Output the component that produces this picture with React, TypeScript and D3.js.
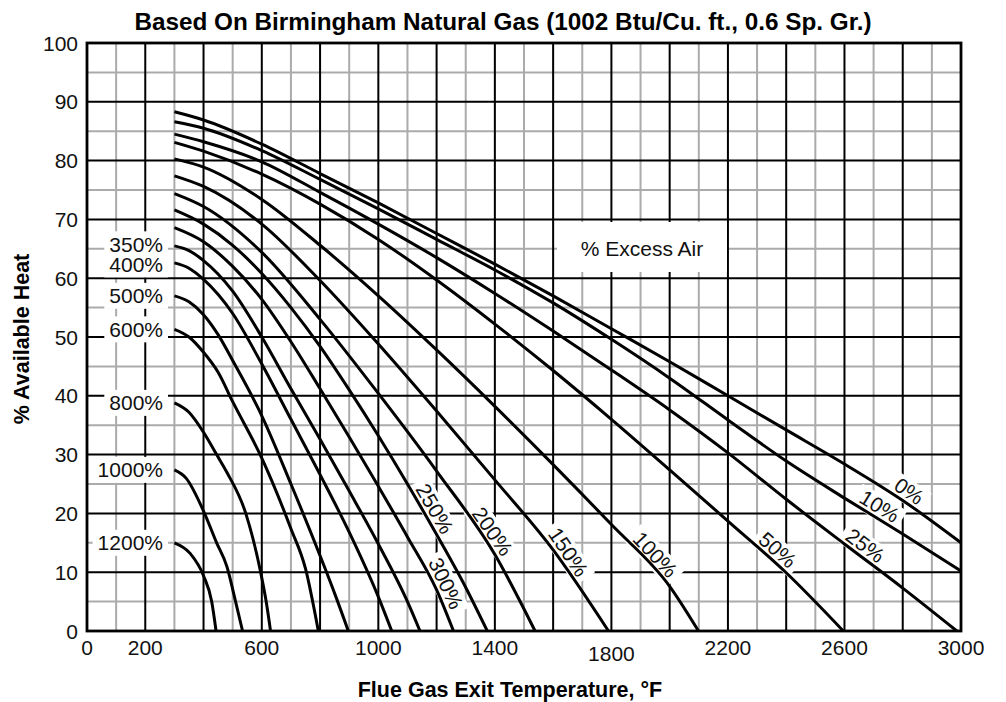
import * as d3 from 'd3';

// % excess air for each curve, top to bottom
const excessAir = ['0%', '10%', '25%', '50%', '100%', '150%', '200%', '250%', '300%', '350%', '400%', '500%', '600%', '800%', '1000%', '1200%'];

// [flue gas temperature °F, % available heat]
const ea0 = [[300, 88.3], [400, 86.9], [600, 82.8], [800, 77.8], [1000, 72.8], [1200, 67.6], [1400, 62.4], [1600, 57.0], [1800, 51.4], [2000, 45.8], [2200, 40.0], [2400, 34.2], [2600, 28.4], [2800, 22.2], [3000, 15.0]];
const ea10 = [[300, 86.6], [400, 85.5], [600, 81.7], [800, 76.8], [1000, 71.8], [1200, 66.6], [1400, 61.4], [1600, 55.8], [1800, 49.6], [2000, 43.0], [2200, 35.9], [2400, 28.9], [2600, 22.6], [2800, 16.5], [3000, 10.2]];
const ea25 = [[300, 84.5], [400, 83.2], [600, 79.8], [800, 74.6], [1000, 69.2], [1200, 63.5], [1400, 57.4], [1600, 51.0], [1800, 44.4], [2000, 37.6], [2200, 30.3], [2400, 22.4], [2600, 14.8], [2800, 7.3], [2986, 0]];
const ea50 = [[300, 83.1], [400, 81.6], [600, 77.7], [800, 72.6], [1000, 66.6], [1200, 59.7], [1400, 52.2], [1600, 44.3], [1800, 36.0], [2000, 27.4], [2200, 18.7], [2400, 9.9], [2596, 0]];
const ea100 = [[300, 80.3], [400, 78.9], [600, 73.4], [800, 65.6], [1000, 57.0], [1200, 47.8], [1400, 38.2], [1600, 28.3], [1800, 18.1], [2000, 7.6], [2099, 0]];
const ea150 = [[300, 77.4], [400, 75.6], [600, 69.2], [800, 59.6], [1000, 48.8], [1200, 37.4], [1400, 25.7], [1600, 13.8], [1790, 0]];
const ea200 = [[300, 74.4], [400, 72.2], [600, 64.4], [800, 53.0], [1000, 40.4], [1200, 27.2], [1400, 13.0], [1538, 0]];
const ea250 = [[300, 71.6], [400, 69.2], [500, 65.6], [600, 60.8], [700, 55.0], [800, 48.4], [900, 41.0], [1000, 33.2], [1100, 25.0], [1200, 16.4], [1300, 7.4], [1374, 0]];
const ea300 = [[300, 68.6], [400, 66.2], [500, 62.0], [600, 56.4], [700, 49.2], [800, 41.2], [900, 33.0], [1000, 24.6], [1100, 16.0], [1200, 7.0], [1258, 0]];
const ea350 = [[300, 65.5], [350, 64.7], [400, 63.0], [500, 57.8], [600, 50.0], [700, 41.2], [800, 32.6], [900, 23.8], [1000, 14.8], [1100, 5.0], [1143, 0]];
const ea400 = [[300, 62.6], [350, 61.7], [400, 59.8], [500, 54.0], [600, 45.4], [700, 36.0], [800, 26.6], [900, 16.8], [1000, 5.8], [1046, 0]];
const ea500 = [[300, 57.0], [350, 56.0], [400, 53.8], [450, 50.4], [500, 46.0], [600, 36.6], [700, 25.0], [800, 12.8], [850, 6.4], [897, 0]];
const ea600 = [[300, 51.3], [350, 50.0], [400, 47.4], [450, 44.0], [500, 39.0], [600, 29.4], [700, 17.4], [750, 10.6], [794, 0]];
const ea800 = [[300, 38.8], [350, 37.2], [400, 33.8], [445, 30.0], [480, 27.0], [545, 20.0], [596, 10.0], [615, 5.0], [630, 0]];
const ea1000 = [[300, 27.4], [340, 26.0], [400, 20.4], [445, 15.0], [480, 11.0], [510, 5.0], [534, 0]];
const ea1200 = [[300, 15.0], [354, 13.2], [400, 9.4], [428, 5.0], [443, 0]];

const series = [ea0, ea10, ea25, ea50, ea100, ea150, ea200, ea250, ea300, ea350, ea400, ea500, ea600, ea800, ea1000, ea1200];

// curves labelled along the line: index into series, temperature of the label
const inlineLabels = [[0, 2800], [1, 2700], [2, 2648], [3, 2345], [4, 1922], [5, 1620], [6, 1360], [7, 1160], [8, 1197]];
// curves labelled at their left end
const startLabels = [9, 10, 11, 12, 13, 14, 15];

const xTicks = [0, 200, 600, 1000, 1400, 1800, 2200, 2600, 3000];
const yTicks = [0, 10, 20, 30, 40, 50, 60, 70, 80, 90, 100];

const FONT = 'Liberation Sans, Arial, Helvetica, sans-serif';

const x = d3.scaleLinear().domain([0, 3000]).range([87, 961]);
const y = d3.scaleLinear().domain([0, 100]).range([631, 43]);

const line = d3.line<number[]>()
  .x(d => x(d[0]))
  .y(d => y(d[1]))
  .curve(d3.curveMonotoneX);

// linear lookup along a curve
const valueAt = (pts: number[][], t: number) => {
  for (let i = 1; i < pts.length; i++) {
    if (t <= pts[i][0]) {
      const [t0, v0] = pts[i - 1];
      const [t1, v1] = pts[i];
      return v0 + (v1 - v0) * (t - t0) / (t1 - t0);
    }
  }
  return pts[pts.length - 1][1];
};

const textWidth = (s: string, fs: number) =>
  s.split('').reduce((w, c) => w + (c === '%' ? 0.889 : 0.556), 0) * fs;

export default function App() {
  const fs = 21;
  const minorX = d3.range(100, 3000, 200);
  const majorX = d3.range(200, 3000, 200);
  const minorY = d3.range(5, 100, 10);
  const majorY = d3.range(10, 100, 10);

  const inline = inlineLabels.map(([i, t]) => {
    const pts = series[i];
    const px = x(t), py = y(valueAt(pts, t));
    const dx = x(t + 20) - x(t - 20);
    const dy = y(valueAt(pts, t + 20)) - y(valueAt(pts, t - 20));
    const angle = Math.atan2(dy, dx) * 180 / Math.PI;
    return { label: excessAir[i], px, py, angle, w: textWidth(excessAir[i], fs) };
  });

  const starts = startLabels.map(i => ({
    label: excessAir[i],
    py: y(series[i][0][1]) + (i === 9 ? -1.5 : i === 10 ? 1.5 : 0),
    w: textWidth(excessAir[i], fs),
  }));

  return (
    <svg width={1006} height={702} style={{ position: 'absolute', left: 0, top: 0, background: '#fff' }}>
      <text x={503} y={30} textAnchor="middle" fontFamily={FONT} fontWeight="bold" fontSize={24.3}>
        Based On Birmingham Natural Gas (1002 Btu/Cu. ft., 0.6 Sp. Gr.)
      </text>

      <g>
        {minorX.map(t => (
          <line key={'mx' + t} x1={x(t)} x2={x(t)} y1={y(0)} y2={y(100)} stroke="#ababab" strokeWidth={2} />
        ))}
        {minorY.map(v => (
          <line key={'my' + v} x1={x(0)} x2={x(3000)} y1={y(v)} y2={y(v)} stroke="#ababab" strokeWidth={2} />
        ))}
        {majorX.map(t => (
          <line key={'Mx' + t} x1={x(t)} x2={x(t)} y1={y(0)} y2={y(100)} stroke="#000" strokeWidth={2} />
        ))}
        {majorY.map(v => (
          <line key={'My' + v} x1={x(0)} x2={x(3000)} y1={y(v)} y2={y(v)} stroke="#000" strokeWidth={2} />
        ))}
        <rect x={x(0)} y={y(100)} width={x(3000) - x(0)} height={y(0) - y(100)} fill="none" stroke="#000" strokeWidth={2.8} />
      </g>

      {/* white backings that break the grid behind labels */}
      <g fill="#fff">
        {starts.map(s => (
          <rect key={'sb' + s.label} x={163 - s.w - 5} y={s.py - 13} width={s.w + 10} height={26} />
        ))}
        {inline.map(l => (
          <rect key={'ib' + l.label} x={-l.w / 2 - 5} y={-22} width={l.w + 10} height={24}
            transform={`translate(${l.px},${l.py}) rotate(${l.angle})`} />
        ))}
        <rect x={557} y={222} width={170} height={50} />
      </g>

      <g fill="none" stroke="#000" strokeWidth={3}>
        {series.map((pts, i) => (
          <path key={excessAir[i]} d={line(pts) as string} />
        ))}
      </g>

      <g fontFamily={FONT} fontSize={fs} fill="#111">
        {starts.map(s => (
          <text key={'s' + s.label} x={163} y={s.py + 7.5} textAnchor="end">{s.label}</text>
        ))}
        {inline.map(l => (
          <text key={'i' + l.label} textAnchor="middle" y={-4}
            transform={`translate(${l.px},${l.py}) rotate(${l.angle})`}>{l.label}</text>
        ))}
        <text x={642} y={255.5} textAnchor="middle">% Excess Air</text>

        {yTicks.map(v => (
          <text key={'yt' + v} x={78} y={y(v) + 7.5} textAnchor="end">{v}</text>
        ))}
        {xTicks.map(t => (
          <text key={'xt' + t} x={x(t)} y={t === 1800 ? 661 : 655} textAnchor="middle">{t}</text>
        ))}
      </g>

      <text x={510} y={697} textAnchor="middle" fontFamily={FONT} fontWeight="bold" fontSize={21.5}>
        Flue Gas Exit Temperature, °F
      </text>
      <text transform={`translate(29,339) rotate(-90)`} textAnchor="middle" fontFamily={FONT} fontWeight="bold" fontSize={21.5}>
        % Available Heat
      </text>
    </svg>
  );
}
